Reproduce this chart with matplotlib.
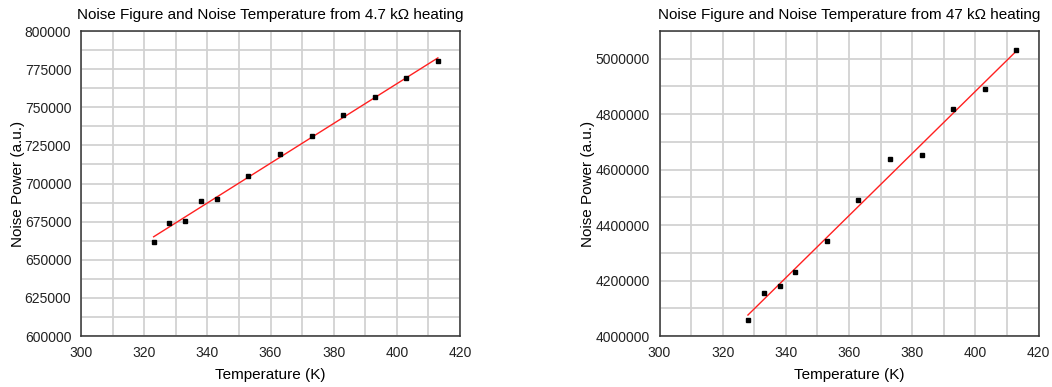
import numpy as np
import matplotlib
matplotlib.use('Agg')
import matplotlib.pyplot as plt
from matplotlib.ticker import MultipleLocator, ScalarFormatter

plt.rcParams['font.family'] = ['Liberation Sans', 'DejaVu Sans']

# 4.7 kOhm heating
temp_a = [323, 328, 333, 338, 343, 353, 363, 373, 383, 393, 403, 413]
power_a = [661400, 673900, 675200, 688300, 689600, 704700, 719100, 730900,
           744700, 756500, 769000, 780100]

# 47 kOhm heating
temp_b = [328, 333, 338, 343, 353, 363, 373, 383, 393, 403, 413]
power_b = [4056600, 4154000, 4179300, 4229800, 4341800, 4489800, 4637800,
           4652200, 4818300, 4890500, 5031300]

titles = ['Noise Figure and Noise Temperature from 4.7 k\u03a9 heating',
          'Noise Figure and Noise Temperature from 47 k\u03a9 heating']

fig = plt.figure(figsize=(10.52, 3.87), dpi=100)
ax1 = fig.add_axes([81 / 1052, 51 / 387, 379 / 1052, 305 / 387])
ax2 = fig.add_axes([659.5 / 1052, 51 / 387, 379 / 1052, 305 / 387])


def setup(ax, x, y, title, ylim, ymaj, ymin):
    # linear fit through the measured points
    k, b = np.polyfit(x, y, 1)
    xf = np.array([min(x), max(x)])
    ax.plot(xf, k * xf + b, color='#ff2020', lw=1.0, zorder=3)
    ax.plot(x, y, 's', color='black', ms=2.2, zorder=4)
    ax.set_xlim(300, 420)
    ax.set_ylim(*ylim)
    ax.xaxis.set_major_locator(MultipleLocator(20))
    ax.xaxis.set_minor_locator(MultipleLocator(10))
    ax.yaxis.set_major_locator(MultipleLocator(ymaj))
    ax.yaxis.set_minor_locator(MultipleLocator(ymin))
    fmt = ScalarFormatter(useOffset=False)
    fmt.set_scientific(False)
    ax.yaxis.set_major_formatter(fmt)
    ax.grid(True, which='both', color='#d2d2d2', lw=1.3)
    ax.set_axisbelow(True)
    ax.tick_params(which='both', length=0, labelsize=10, pad=7, colors='#222222')
    for s in ax.spines.values():
        s.set_color('#333333')
        s.set_linewidth(1.1)
    ax.set_title(title, fontsize=11, pad=9)
    ax.set_xlabel('Temperature (K)', fontsize=11, labelpad=6)
    ax.set_ylabel('Noise Power (a.u.)', fontsize=11, labelpad=0)


setup(ax1, temp_a, power_a, titles[0], (600000, 800000), 25000, 12500)
setup(ax2, temp_b, power_b, titles[1], (4000000, 5100000), 200000, 100000)

fig.savefig('out.png', dpi=100)
